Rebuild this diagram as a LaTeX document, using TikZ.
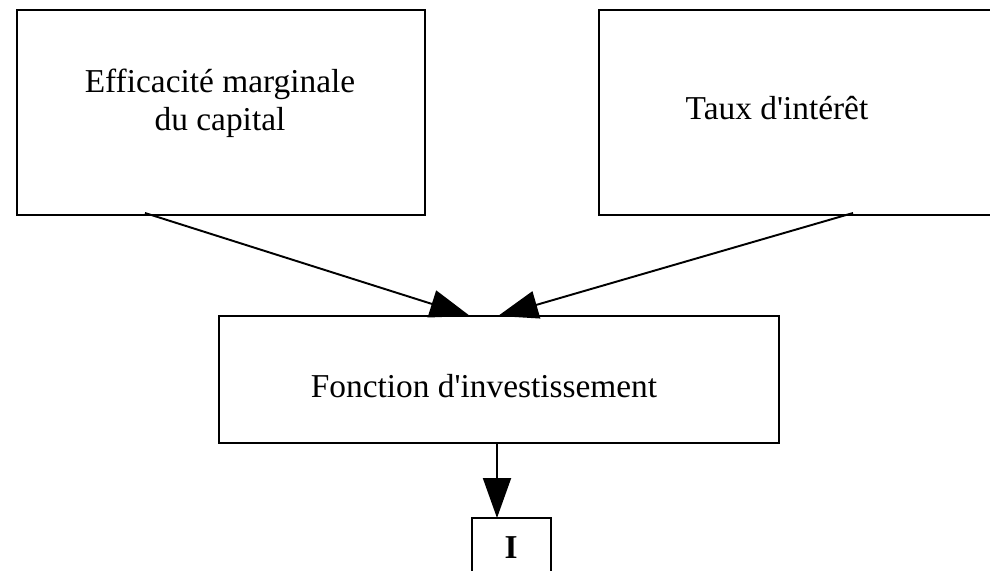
\documentclass[tikz,border=0pt]{standalone}
\usepackage{fontspec}
\newfontfamily\serif{Liberation Serif}
\usepackage{tikz}
\usetikzlibrary{arrows.meta}

\tikzset{
  boite/.style={draw, line width=1.1pt, inner sep=0pt},
  texte/.style={font=\serif\fontsize{19}{21.5}\selectfont, align=center, inner sep=0pt},
  fleche/.style={line width=1.1pt, -{Triangle[length=0.8cm,width=0.56cm]}}
}

\begin{document}
\begin{tikzpicture}
\useasboundingbox (0,0) rectangle (19.8,-11.4);
\clip (0,0) rectangle (19.8,-11.4);
% efficacite marginale du capital
\node[boite, minimum width=8.16cm, minimum height=4.1cm] (emc) at (4.42,-2.25) {};
\node[texte] (emct) at (4.4,-2.07) {Efficacité marginale\\du capital};
% taux d'interet
\node[boite, minimum width=8.4cm, minimum height=4.1cm] (taux) at (16.18,-2.25) {};
\node[texte] (tauxt) at (15.54,-2.16) {Taux d'intérêt};
% fonction d'investissement
\node[boite, minimum width=11.2cm, minimum height=2.54cm] (fonc) at (9.98,-7.59) {};
\node[texte] (fonct) at (9.68,-7.72) {Fonction d'investissement};
% investissement I
\node[boite, minimum width=1.58cm, minimum height=1.6cm] (inv) at (10.23,-11.16) {};
\node[texte, font=\serif\fontsize{19}{21.5}\selectfont\bfseries] (invt) at (10.22,-10.96) {I};
% fleches
\coordinate (a1) at (2.9,-4.26);
\coordinate (c1) at (9.4,-6.32);
\coordinate (b1) at (17.06,-4.26);
\coordinate (c2) at (9.96,-6.32);
\coordinate (c3) at (9.94,-8.86);
\coordinate (i1) at (9.94,-10.36);
\draw[fleche] (a1) -- (c1);
\draw[fleche] (b1) -- (c2);
\draw[fleche] (c3) -- (i1);
\end{tikzpicture}
\end{document}
